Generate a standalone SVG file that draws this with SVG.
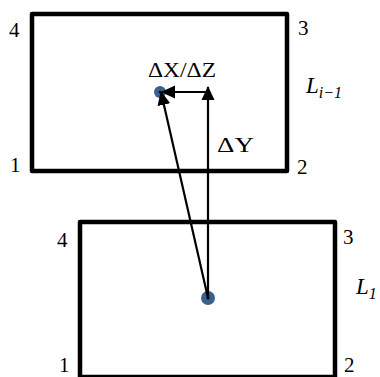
<svg xmlns="http://www.w3.org/2000/svg" width="380" height="377" viewBox="0 0 380 377">
<defs>
<marker id="ah" markerWidth="14" markerHeight="14" refX="13" refY="7" orient="auto" markerUnits="userSpaceOnUse">
<path d="M0,0.5 L14,7 L0,13.5 z" fill="#000"/>
</marker>
<style>
.box{fill:#fff;stroke:#000;stroke-width:4.5;stroke-linejoin:round}
.t{font-family:'Liberation Serif','DejaVu Serif',serif;font-size:21px;fill:#000}
.i{font-family:'Liberation Serif','DejaVu Serif',serif;font-style:italic;fill:#000}
.c{stroke:#000;stroke-width:2.2;fill:none}
</style>
</defs>
<g id="layer-top">
<rect class="box" x="32" y="14" width="255" height="157"/>
<text class="t" x="9" y="37">4</text>
<text class="t" x="298" y="35">3</text>
<text class="t" x="10" y="172">1</text>
<text class="t" x="297" y="174">2</text>
<text class="i" x="306" y="93" font-size="23">L<tspan font-size="16" dy="5">i−1</tspan></text>
</g>
<g id="layer-bottom">
<rect class="box" x="80" y="222" width="255" height="155"/>
<text class="t" x="57" y="247">4</text>
<text class="t" x="343" y="244">3</text>
<text class="t" x="59" y="372">1</text>
<text class="t" x="344" y="372">2</text>
<text class="i" x="356" y="294" font-size="23">L<tspan font-size="16" dy="5">1</tspan></text>
</g>
<g id="point-top">
<circle cx="160" cy="92" r="6" fill="#3b5f8e"/>
<circle cx="160" cy="92" r="1.3" fill="#000"/>
</g>
<g id="point-bottom">
<circle cx="208" cy="298" r="7" fill="#3b5f8e"/>
<circle cx="208" cy="298" r="1.5" fill="#000"/>
</g>
<g id="connectors">
<line class="c" x1="208" y1="298" x2="208" y2="87" marker-end="url(#ah)"/>
<line class="c" x1="208" y1="92" x2="162" y2="92" marker-end="url(#ah)"/>
<line class="c" x1="208" y1="298" x2="161" y2="92" marker-end="url(#ah)"/>
</g>
<text class="t" x="148" y="77" textLength="68" lengthAdjust="spacingAndGlyphs">ΔX/ΔZ</text>
<text class="t" x="217" y="152" textLength="37" lengthAdjust="spacingAndGlyphs">ΔY</text>
</svg>
